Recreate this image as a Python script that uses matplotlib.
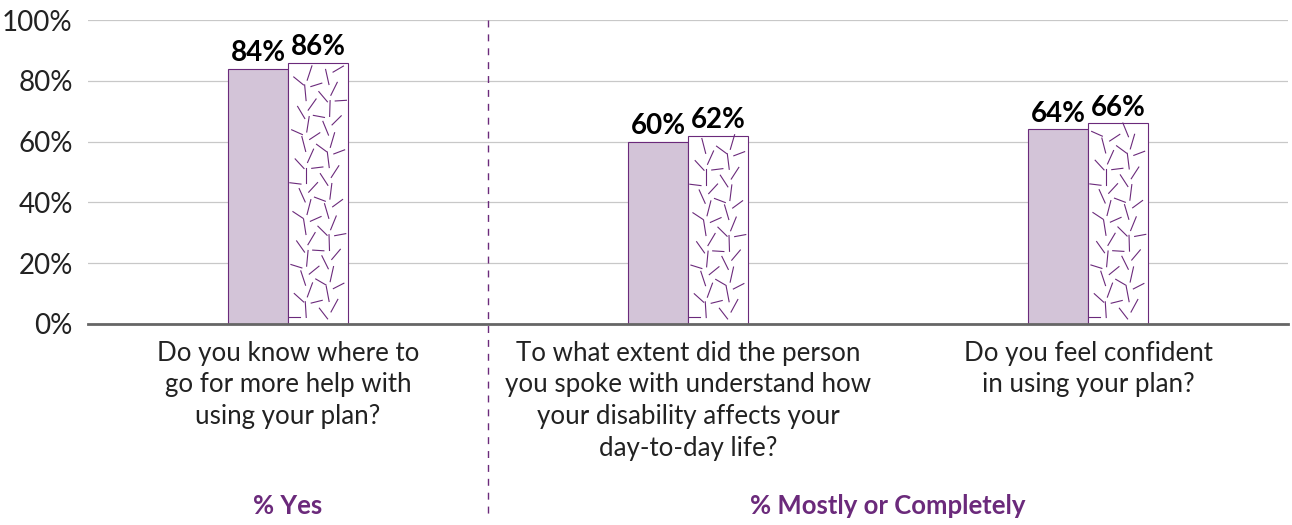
import numpy as np
from matplotlib import pyplot as plt
from matplotlib.lines import Line2D

# 数据
questions = [
    "Do you know where to\ngo for more help with\nusing your plan?",
    "To what extent did the person\nyou spoke with understand how\nyour disability affects your\nday-to-day life?",
    "Do you feel confident\nin using your plan?",
]
series_a = [84, 60, 64]
series_b = [86, 62, 66]
group_names = ["% Yes", "% Mostly or Completely"]
yticks = [0, 20, 40, 60, 80, 100]

purple = "#6b2a7b"
light = "#d3c4d8"

plt.rcParams['font.family'] = ['Lato', 'DejaVu Sans']

fig = plt.figure(figsize=(12.92, 5.25), dpi=100)
ax = fig.add_axes([88 / 1292, 201 / 525, 1200 / 1292, 304 / 525])

x = np.arange(len(questions))
w = 0.15
ax.bar(x - w / 2, series_a, w, color=light, edgecolor=purple, linewidth=0.8, zorder=3)
bars_b = ax.bar(x + w / 2, series_b, w, color="white", edgecolor=purple, linewidth=0.8, zorder=3)

# 第二组柱子里的短斜线纹理
for b in bars_b:
    x0, w0, h0 = b.get_x(), b.get_width(), b.get_height()
    n = int(h0 * 0.75)
    for i in range(n):
        fx = (i * 0.6180339887) % 1.0
        fy = (i + 0.5) / n
        ang = np.deg2rad((i * 137.5) % 180)
        dx = 0.014 * np.cos(ang)
        dy = 2.6 * np.sin(ang)
        cx = x0 + 0.017 + fx * (w0 - 0.034)
        cy = fy * (h0 - 3) + 1.5
        ax.add_line(Line2D([cx - dx, cx + dx], [cy - dy, cy + dy],
                           color=purple, linewidth=0.8, zorder=4))

for i in range(len(x)):
    ax.text(x[i] - w / 2, series_a[i] + 0.8, f"{series_a[i]}%", ha="center", va="bottom",
            fontsize=20, fontweight="bold", zorder=5)
    ax.text(x[i] + w / 2, series_b[i] + 0.8, f"{series_b[i]}%", ha="center", va="bottom",
            fontsize=20, fontweight="bold", zorder=5)

ax.set_xlim(-0.5, 2.5)
ax.set_ylim(0, 100)
ax.set_yticks(yticks)
ax.set_yticklabels([f"{t}%" for t in yticks], fontsize=20, color="#222222")
ax.set_xticks([])
ax.tick_params(axis="y", length=0, pad=11)
ax.grid(axis="y", color="#c8c8c8", linewidth=0.9, zorder=0)
for s in ["top", "right", "left"]:
    ax.spines[s].set_visible(False)
ax.spines["bottom"].set_color("#666666")
ax.spines["bottom"].set_linewidth(2)
ax.spines["bottom"].set_zorder(5)

# 问题文字
for i, q in enumerate(questions):
    ax.text(x[i], -5.5, q, ha="center", va="top", fontsize=18.6, color="#222222",
            linespacing=1.33)

# 分隔虚线和分组标题
ax.plot([0.5, 0.5], [100, -63], color=purple, linestyle=(0, (5, 5)), linewidth=1,
        clip_on=False)
ax.text(0, -60, group_names[0], ha="center", va="center", fontsize=18.5,
        fontweight="bold", color=purple)
ax.text(1.5, -60, group_names[1], ha="center", va="center", fontsize=18.5,
        fontweight="bold", color=purple)

plt.savefig("out.png", dpi=100)
